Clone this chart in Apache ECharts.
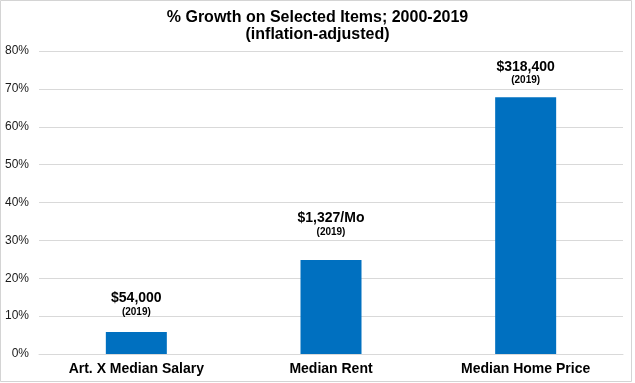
<!DOCTYPE html>
<html><head><meta charset="utf-8">
<script src="https://cdn.jsdelivr.net/npm/echarts@6/dist/echarts.min.js"></script>
<style>html,body{margin:0;padding:0;background:#fff}#c{width:635px;height:383px}</style>
</head><body><div id="c"></div>
<script>
const categories = ['Art. X Median Salary', 'Median Rent', 'Median Home Price'];
const growthPct = [5.8, 24.8, 67.8];
const valueLabels = ['$54,000', '$1,327/Mo', '$318,400'];
const yearLabel = '(2019)';
const labelGaps = [14, 22, 11];
const yTicks = [0, 10, 20, 30, 40, 50, 60, 70, 80];

const chart = echarts.init(document.getElementById('c'), null, {renderer: 'canvas'});
const FONT = '"Liberation Sans", Arial, Helvetica, sans-serif';
chart.setOption({
  animation: false,
  backgroundColor: '#fff',
  title: {
    text: '% Growth on Selected Items; 2000-2019\n(inflation-adjusted)',
    left: 'center', top: 4,
    textStyle: {fontFamily: FONT, fontSize: 16, fontWeight: 'bold', color: '#000', lineHeight: 17}
  },
  graphic: [{
    type: 'rect', shape: {x: 0.5, y: 0.5, width: 631, height: 381},
    style: {fill: 'none', stroke: '#d4d4d4', lineWidth: 1}, silent: true, z: -1
  }],
  grid: {left: 39, right: 12, top: 51, bottom: 29},
  xAxis: {
    type: 'category', data: categories,
    axisTick: {show: false},
    axisLine: {lineStyle: {color: '#d9d9d9'}},
    axisLabel: {fontFamily: FONT, fontSize: 14, fontWeight: 'bold', color: '#000', margin: 8}
  },
  yAxis: {
    type: 'value', min: yTicks[0], max: yTicks[yTicks.length - 1], interval: 10,
    axisLine: {show: false}, axisTick: {show: false},
    splitLine: {lineStyle: {color: '#d9d9d9'}},
    axisLabel: {fontFamily: FONT, fontSize: 12, color: '#1a1a1a', margin: 10, formatter: v => v + '%'}
  },
  series: [{
    type: 'bar', barWidth: 61,
    itemStyle: {color: '#0070c0'},
    data: growthPct.map((v, i) => ({
      value: v,
      label: {distance: labelGaps[i], formatter: '{a|' + valueLabels[i] + '}\n{b|' + yearLabel + '}'}
    })),
    label: {
      show: true, position: 'top',
      rich: {
        a: {fontFamily: FONT, fontSize: 14, fontWeight: 'bold', color: '#000', lineHeight: 15},
        b: {fontFamily: FONT, fontSize: 10, fontWeight: 'bold', color: '#000', lineHeight: 12}
      }
    }
  }]
});
</script></body></html>
